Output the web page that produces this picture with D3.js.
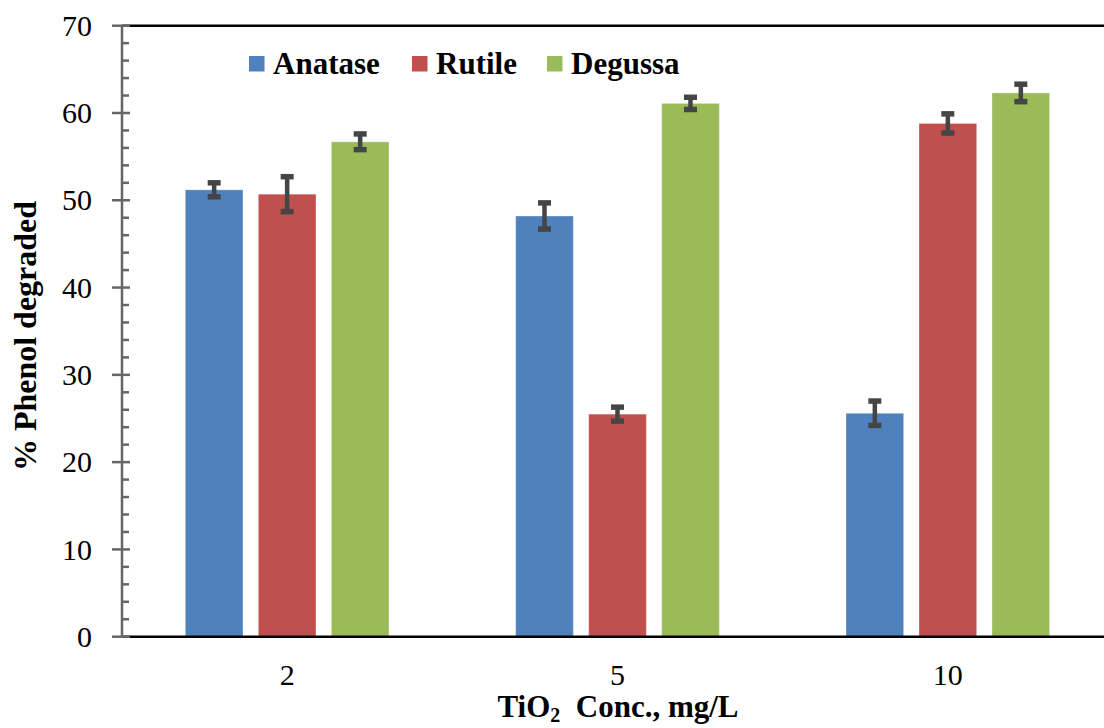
<!DOCTYPE html>
<html>
<head>
<meta charset="utf-8">
<script src="https://cdn.jsdelivr.net/npm/d3@7"></script>
<style>
  html, body { margin: 0; padding: 0; background: #fff; }
  svg { display: block; }
</style>
</head>
<body>
<svg id="chart" width="1104" height="728"></svg>
<script>
// Phenol degradation by TiO2 type and concentration
const categories = ["2", "5", "10"];
const series = ["Anatase", "Rutile", "Degussa"];
const colors = ["#4F81BD", "#C0504D", "#9BBB59"];
const anatase = [51.2, 48.2, 25.6];
const rutile = [50.7, 25.5, 58.8];
const degussa = [56.7, 61.1, 62.3];
const anataseErr = [0.8, 1.5, 1.4];
const rutileErr = [2.0, 0.8, 1.1];
const degussaErr = [0.9, 0.7, 1.0];
const yTicks = [0, 10, 20, 30, 40, 50, 60, 70];

const values = [anatase, rutile, degussa];
const errors = [anataseErr, rutileErr, degussaErr];

const svg = d3.select("#chart");
const plotLeft = 122, plotRight = 1113, plotTop = 25.7, plotBottom = 636.7;

const x0 = d3.scaleBand().domain(categories).range([plotLeft, plotRight]).padding(0);
const x1 = d3.scaleBand().domain(series).range([-109.5, 109.5]).paddingInner(0.21).paddingOuter(0.105);
const y = d3.scaleLinear().domain([0, 70]).range([plotBottom, plotTop]);

const serif = "'Liberation Serif', 'Times New Roman', serif";

// frame: top border
svg.append("line").attr("x1", plotLeft).attr("x2", plotRight).attr("y1", y(70)).attr("y2", y(70))
  .attr("stroke", "#000").attr("stroke-width", 2.5);

// bars
const rows = [];
categories.forEach((c, i) => series.forEach((s, j) => rows.push({
  c, s, j, v: values[j][i], e: errors[j][i]
})));

svg.append("g").selectAll("rect").data(rows).join("rect")
  .attr("x", d => x0(d.c) + x0.bandwidth() / 2 + x1(d.s))
  .attr("y", d => y(d.v))
  .attr("width", x1.bandwidth())
  .attr("height", d => y(0) - y(d.v))
  .attr("fill", d => colors[d.j])
  .attr("stroke", "rgba(255,255,255,0.35)")
  .attr("stroke-width", 1);

// error bars
const eg = svg.append("g").attr("stroke", "#454545");
rows.forEach(d => {
  const cx = x0(d.c) + x0.bandwidth() / 2 + x1(d.s) + x1.bandwidth() / 2;
  const y1 = y(d.v + d.e), y2 = y(d.v - d.e);
  eg.append("line").attr("x1", cx).attr("x2", cx).attr("y1", y1).attr("y2", y2).attr("stroke-width", 4.5);
  [y1, y2].forEach(yy => eg.append("line")
    .attr("x1", cx - 6.5).attr("x2", cx + 6.5).attr("y1", yy).attr("y2", yy).attr("stroke-width", 5.5));
});

// x baseline
svg.append("line").attr("x1", plotLeft).attr("x2", plotRight).attr("y1", y(0)).attr("y2", y(0))
  .attr("stroke", "#000").attr("stroke-width", 2.5);

// y axis with major and minor ticks
const axisColor = "#666";
const ya = svg.append("g");
ya.append("line").attr("x1", plotLeft).attr("x2", plotLeft).attr("y1", y(70)).attr("y2", y(0))
  .attr("stroke", axisColor).attr("stroke-width", 2.5);
ya.selectAll("line.minor").data(d3.range(0, 70, 2).filter(v => v % 10 !== 0)).join("line")
  .attr("class", "minor")
  .attr("x1", plotLeft).attr("x2", plotLeft + 7).attr("y1", d => y(d)).attr("y2", d => y(d))
  .attr("stroke", axisColor).attr("stroke-width", 2.5);
ya.selectAll("line.major").data(yTicks).join("line")
  .attr("class", "major")
  .attr("x1", plotLeft - 10).attr("x2", plotLeft + 8).attr("y1", d => y(d)).attr("y2", d => y(d))
  .attr("stroke", axisColor).attr("stroke-width", 2.5);
ya.selectAll("text").data(yTicks).join("text")
  .attr("x", plotLeft - 30).attr("y", d => y(d)).attr("dy", "0.34em")
  .attr("text-anchor", "end")
  .attr("font-family", serif).attr("font-size", 30).attr("fill", "#000")
  .text(d => d);

// x tick labels
svg.append("g").selectAll("text").data(categories).join("text")
  .attr("x", d => x0(d) + x0.bandwidth() / 2).attr("y", 685)
  .attr("text-anchor", "middle")
  .attr("font-family", serif).attr("font-size", 30).attr("fill", "#000")
  .text(d => d);

// axis titles
const xt = svg.append("text").attr("x", 618).attr("y", 717).attr("text-anchor", "middle")
  .attr("font-family", serif).attr("font-size", 31).attr("font-weight", "bold").attr("fill", "#000");
xt.append("tspan").text("TiO");
xt.append("tspan").attr("font-size", 20).attr("dy", 5).text("2");
xt.append("tspan").attr("dy", -5).text("\u00A0 Conc., mg/L");

svg.append("text")
  .attr("transform", "translate(36,336) rotate(-90)")
  .attr("text-anchor", "middle")
  .attr("font-family", serif).attr("font-size", 32).attr("font-weight", "bold").attr("fill", "#000")
  .text("% Phenol degraded");

// legend
const legendX = [249, 412, 547];
const lg = svg.append("g");
series.forEach((s, j) => {
  lg.append("rect").attr("x", legendX[j]).attr("y", 56).attr("width", 15.5).attr("height", 15.5)
    .attr("fill", colors[j]);
  lg.append("text").attr("x", legendX[j] + 24).attr("y", 74)
    .attr("font-family", serif).attr("font-size", 31).attr("font-weight", "bold").attr("fill", "#000")
    .text(s);
});
</script>
</body>
</html>
